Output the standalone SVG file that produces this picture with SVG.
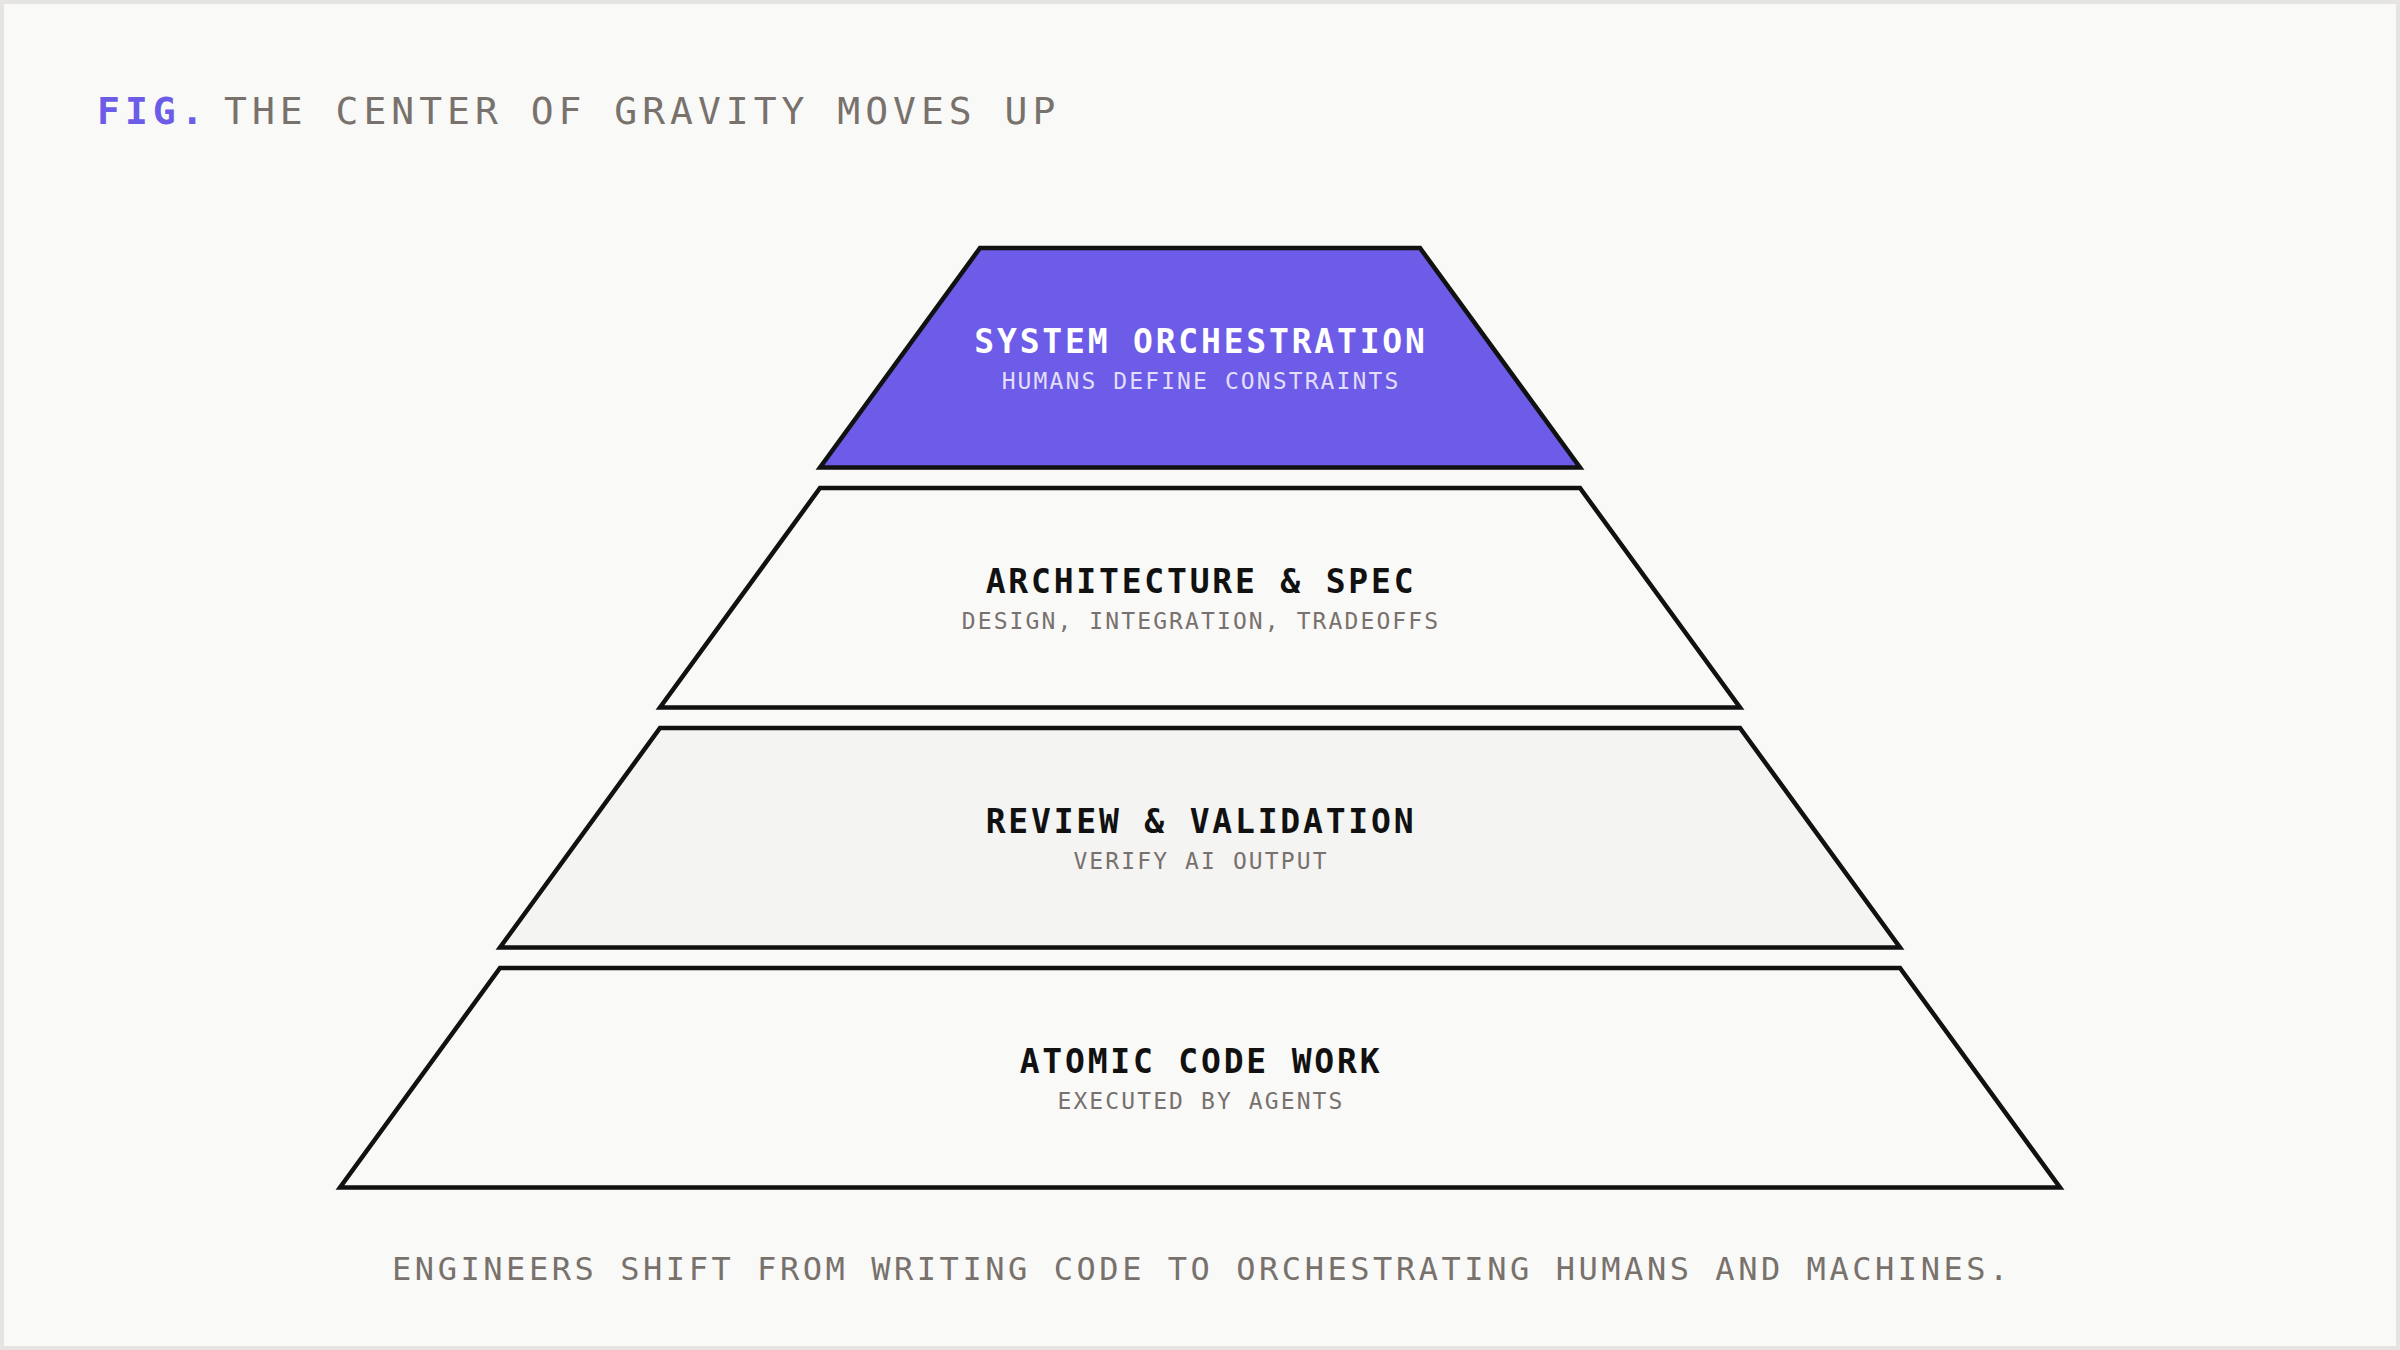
<svg xmlns="http://www.w3.org/2000/svg" width="2400" height="1350" viewBox="0 0 2400 1350">
<style>
.layer{stroke:#111111;stroke-width:4.5;stroke-linejoin:miter}
.t{font-family:"DejaVu Sans Mono","Liberation Mono",monospace;font-weight:bold;font-size:33px;letter-spacing:2.8px;text-anchor:middle}
.s{font-family:"DejaVu Sans Mono","Liberation Mono",monospace;font-size:23px;letter-spacing:2.1px;text-anchor:middle;fill:#78716c}
.hd{font-family:"DejaVu Sans Mono","Liberation Mono",monospace;font-size:38px;letter-spacing:5px}
</style>
<rect x="0" y="0" width="2400" height="1350" fill="#e5e4e2"/>
<rect x="4" y="4" width="2392" height="1342" fill="#f9f9f7"/>
<g id="title">
<text class="hd" x="97" y="124" fill="#6c5ce7" font-weight="bold">FIG.</text>
<text class="hd" x="224" y="124" fill="#78716c">THE CENTER OF GRAVITY MOVES UP</text>
</g>
<g id="connectors"></g>
<g id="layer-system-orchestration">
<polygon class="layer" points="980,248 1420,248 1580,467.5 820,467.5" fill="#6c5ce7"/>
<text class="t" x="1201" y="353.3" fill="#ffffff">SYSTEM ORCHESTRATION</text>
<text class="s" x="1201" y="389.3" style="fill:#e2defc">HUMANS DEFINE CONSTRAINTS</text>
</g>
<g id="layer-architecture">
<polygon class="layer" points="820,488 1580,488 1740,707.5 660,707.5" fill="#f9f9f7"/>
<text class="t" x="1201" y="593.3" fill="#111111">ARCHITECTURE &amp; SPEC</text>
<text class="s" x="1201" y="629.3">DESIGN, INTEGRATION, TRADEOFFS</text>
</g>
<g id="layer-review">
<polygon class="layer" points="660,728 1740,728 1900,947.5 500,947.5" fill="#f4f4f2"/>
<text class="t" x="1201" y="833.3" fill="#111111">REVIEW &amp; VALIDATION</text>
<text class="s" x="1201" y="869.3">VERIFY AI OUTPUT</text>
</g>
<g id="layer-atomic">
<polygon class="layer" points="500,968 1900,968 2060,1187.5 340,1187.5" fill="#f9f9f7"/>
<text class="t" x="1201" y="1073.3" fill="#111111">ATOMIC CODE WORK</text>
<text class="s" x="1201" y="1109.3">EXECUTED BY AGENTS</text>
</g>
<g id="footer">
<text x="1202" y="1280" font-family="'DejaVu Sans Mono','Liberation Mono',monospace" font-size="32" letter-spacing="3.55" text-anchor="middle" fill="#78716c">ENGINEERS SHIFT FROM WRITING CODE TO ORCHESTRATING HUMANS AND MACHINES.</text>
</g>
</svg>
